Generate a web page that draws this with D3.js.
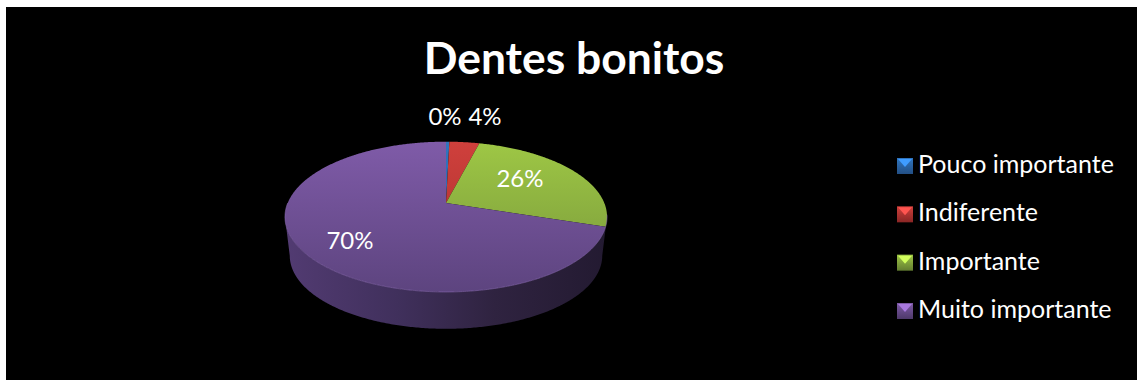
<!DOCTYPE html>
<html><head><meta charset="utf-8">
<script src="https://cdn.jsdelivr.net/npm/d3@7/dist/d3.min.js"></script>
<style>html,body{margin:0;background:#fff}svg{display:block}text{font-family:Lato,"Open Sans",sans-serif;fill:#fff}</style>
</head><body><div id="chart"></div>
<script>
const titleText = "Dentes bonitos";
const categories = ["Pouco importante", "Indiferente", "Importante", "Muito importante"];
const shares = [0.4, 3.6, 26, 70];
const topLight = ["#2f75c0", "#cf403c", "#9ec745", "#7f5ba8"];
const topDark = ["#2a5f9e", "#a52e2c", "#76953a", "#5d447f"];

const W = 1137, H = 380;
const svg = d3.select("#chart").append("svg").attr("width", W).attr("height", H);
const defs = svg.append("defs");
svg.append("rect").attr("x", 6).attr("y", 7).attr("width", W - 6).attr("height", H - 7).attr("fill", "#000");

const total = d3.sum(shares);
const percent = d3.format(".0%");
const pie = d3.pie().sort(null).value(d => d)(shares);

// Perspective projection of the unit disc onto the page
const cx = 446, cy = 203, A = 158.3, B = 72.6, k = 0.184;
function project(theta, scale = 1, dy = 0) {
  const X = Math.sin(theta), Z = Math.cos(theta), w = 1 + k * Z;
  return [cx + scale * A * X / w, cy + dy - scale * B * Z / w];
}
const line = d3.line();
const arcPoints = (a0, a1, scale, dy) => {
  const n = Math.max(2, Math.ceil((a1 - a0) / 0.01));
  return d3.range(n + 1).map(i => project(a0 + (a1 - a0) * i / n, scale, dy));
};

// Side wall, bounded by the widest points of the upper and lower rims
const wallScale = 0.97, wallDy = 39.5;
const wall = defs.append("linearGradient").attr("id", "wall");
[[0, "#523b72"], [0.35, "#40305c"], [0.65, "#2f2340"], [1, "#231a31"]].forEach(([o, c]) =>
  wall.append("stop").attr("offset", o).attr("stop-color", c));
const lo = Math.acos(-k), hi = 2 * Math.PI - lo;
const wallPath = arcPoints(lo, hi, 1, 0).concat(arcPoints(lo, hi, wallScale, wallDy).reverse());
svg.append("path").attr("d", line(wallPath) + "Z").attr("fill", "url(#wall)");

// Top face slices
pie.forEach((s, i) => {
  const g = defs.append("linearGradient").attr("id", "top" + i)
    .attr("gradientUnits", "userSpaceOnUse")
    .attr("x1", 0).attr("x2", 0).attr("y1", 142).attr("y2", 292);
  g.append("stop").attr("offset", 0).attr("stop-color", topLight[i]);
  g.append("stop").attr("offset", 1).attr("stop-color", topDark[i]);
  svg.append("path")
    .attr("d", line([[cx, cy]].concat(arcPoints(s.startAngle, s.endAngle, 1, 0))) + "Z")
    .attr("fill", `url(#top${i})`);
});

// Lit front rim of the disc
svg.append("path").attr("d", line(arcPoints(Math.PI * 0.55, Math.PI * 1.5, 1, 0)))
  .attr("fill", "none").attr("stroke", "#8a6cb3").attr("stroke-opacity", 0.55).attr("stroke-width", 1);

// Percentage labels
const labelPos = [[445, 125], [485, 125], [520, 187], [350, 249]];
labelPos.forEach(([x, y], i) => {
  svg.append("text").attr("x", x).attr("y", y).attr("text-anchor", "middle")
    .attr("font-size", 24).text(percent(shares[i] / total));
});

svg.append("text").attr("x", 574).attr("y", 74).attr("text-anchor", "middle")
  .attr("font-size", 44.4).attr("font-weight", 700).text(titleText);

// Legend with bevelled swatches: a vertical shade plus a pale wedge along the top edge
const legendY = d3.scalePoint().domain(categories).range([166, 311]);
const legend = svg.selectAll("g.entry").data(categories).join("g").attr("class", "entry")
  .attr("transform", d => `translate(897,${legendY(d)})`);
legend.each(function (d, i) {
  const g = d3.select(this), s = 16, h = s / 2;
  const shade = defs.append("linearGradient").attr("id", "swatch" + i)
    .attr("x1", 0).attr("x2", 0).attr("y1", 0).attr("y2", 1);
  shade.append("stop").attr("offset", 0).attr("stop-color", topLight[i]);
  shade.append("stop").attr("offset", 1).attr("stop-color", d3.color(topDark[i]).darker(0.5));
  g.append("rect").attr("x", 0).attr("y", -h).attr("width", s).attr("height", s).attr("fill", `url(#swatch${i})`);
  g.append("path").attr("d", line([[1, -h + 1], [s - 1, -h + 1], [h, 1]]) + "Z")
    .attr("fill", d3.color(topLight[i]).brighter(0.8));
  g.append("text").attr("x", 21).attr("y", 7).attr("font-size", 25).text(d);
});
</script></body></html>
